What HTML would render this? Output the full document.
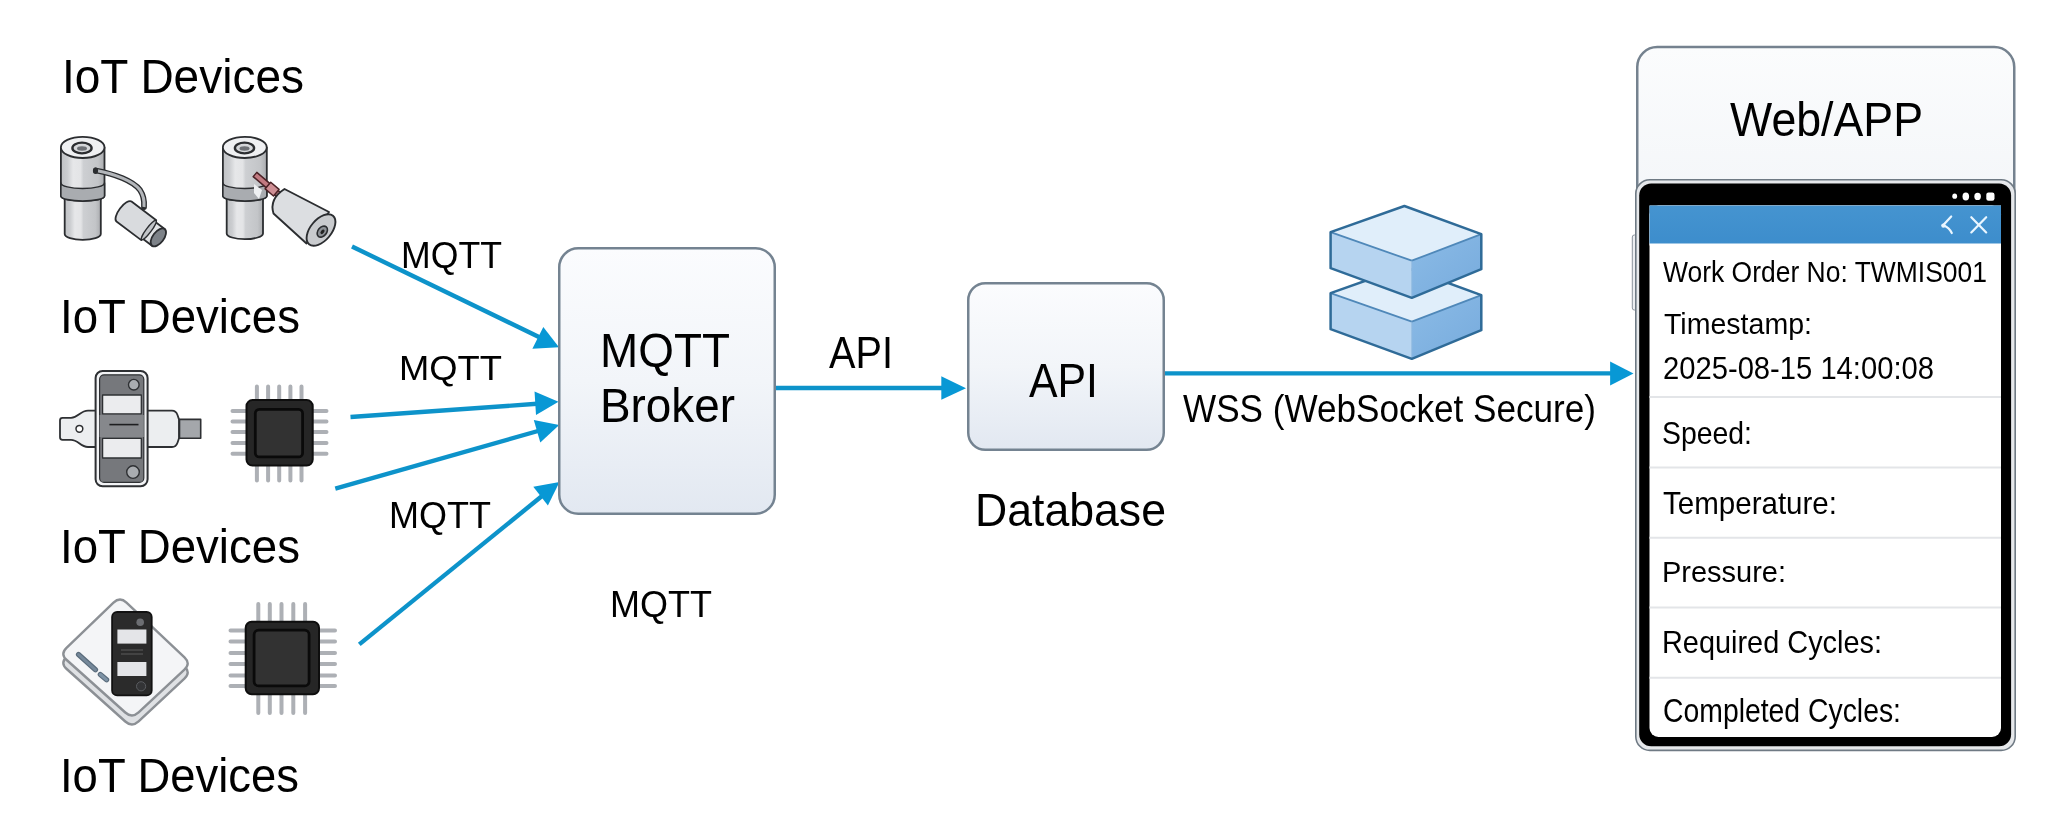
<!DOCTYPE html>
<html><head><meta charset="utf-8"><title>IoT MQTT Architecture</title><style>
html,body{margin:0;padding:0;background:#fff;width:2048px;height:825px;overflow:hidden}
svg{display:block;will-change:transform}
text{font-family:"Liberation Sans",sans-serif;fill:#000}
</style></head><body>
<svg width="2048" height="825" viewBox="0 0 2048 825">
<defs>
<linearGradient id="gBox" x1="0" y1="0" x2="0" y2="1">
<stop offset="0" stop-color="#fbfcfe"/><stop offset="0.5" stop-color="#f2f5f9"/><stop offset="1" stop-color="#e2e8f1"/>
</linearGradient>
<linearGradient id="gPanel" x1="0" y1="0" x2="0" y2="1">
<stop offset="0" stop-color="#fbfcfd"/><stop offset="1" stop-color="#edf1f5"/>
</linearGradient>
<linearGradient id="gHead" x1="0" y1="0" x2="0" y2="1">
<stop offset="0" stop-color="#4594d0"/><stop offset="1" stop-color="#3d8dcc"/>
</linearGradient>
<linearGradient id="gCyl" x1="0" y1="0" x2="1" y2="0">
<stop offset="0" stop-color="#bfc1c4"/><stop offset="0.15" stop-color="#cbcdd0"/><stop offset="0.28" stop-color="#e6e7e9"/><stop offset="0.45" stop-color="#e3e4e6"/><stop offset="0.52" stop-color="#cdcfd2"/><stop offset="0.85" stop-color="#c3c5c8"/><stop offset="1" stop-color="#abadb0"/>
</linearGradient>
<linearGradient id="gCylD" x1="0" y1="0" x2="1" y2="0">
<stop offset="0" stop-color="#9a9da1"/><stop offset="0.4" stop-color="#b8bbbf"/><stop offset="1" stop-color="#9b9ea2"/>
</linearGradient>
<linearGradient id="gChip" x1="0" y1="0" x2="0" y2="1">
<stop offset="0" stop-color="#3a3a3a"/><stop offset="1" stop-color="#2a2a2a"/>
</linearGradient>
</defs>

<!-- ============ arrows ============ -->
<g fill="#0898d5" stroke="none">
<line x1="352" y1="246.5" x2="541" y2="338" stroke="#0d93ca" stroke-width="4.4"/>
<polygon points="559,347.3 543.3,326.9 532.4,348.7"/>
<line x1="350.5" y1="417" x2="537" y2="403.8" stroke="#0d93ca" stroke-width="4.4"/>
<polygon points="558.5,401.8 534.5,391.6 536,414.9"/>
<line x1="335.3" y1="488.7" x2="538" y2="431" stroke="#0d93ca" stroke-width="4.4"/>
<polygon points="559.2,425 533.8,420 540.3,442.5"/>
<line x1="359.3" y1="644.4" x2="542" y2="496" stroke="#0d93ca" stroke-width="4.4"/>
<polygon points="559.5,482.1 533.3,486.7 547.9,505.6"/>
<line x1="776" y1="388" x2="943" y2="388" stroke="#0d93ca" stroke-width="4.4"/>
<polygon points="966,388.2 941.3,376.2 941.3,399.8"/>
<line x1="1164" y1="373.4" x2="1612" y2="373.4" stroke="#0d93ca" stroke-width="4.4"/>
<polygon points="1633.5,373.6 1610.1,361.6 1610.1,385.4"/>
</g>

<!-- ============ boxes ============ -->
<rect x="559.25" y="248.25" width="215.5" height="265.5" rx="19" fill="url(#gBox)" stroke="#748391" stroke-width="2.5"/>
<rect x="968.25" y="283.25" width="195.5" height="166.5" rx="17" fill="url(#gBox)" stroke="#748391" stroke-width="2.5"/>

<!-- ============ stacked blocks icon ============ -->
<defs><linearGradient id="gRF" x1="0" y1="0" x2="1" y2="1"><stop offset="0" stop-color="#8bbbe6"/><stop offset="1" stop-color="#77abdd"/></linearGradient></defs>
<polygon points="1330.6,293.1 1411.8,321.7 1411.8,358.8 1330.6,329.2" fill="#b6d4f0"/>
<polygon points="1411.8,321.7 1481.3,295.2 1481.3,330.2 1411.8,358.8" fill="url(#gRF)"/>
<polygon points="1330.6,293.1 1404.4,267.0 1481.3,295.2 1411.8,321.7" fill="#e0eefa"/>
<polyline points="1330.6,293.1 1411.8,321.7 1481.3,295.2" fill="none" stroke="#4f88b9" stroke-width="1.8" stroke-linejoin="round"/>
<line x1="1411.8" y1="321.7" x2="1411.8" y2="358.8" stroke="#8fb9e0" stroke-width="1"/>
<polygon points="1330.6,293.1 1404.4,267.0 1481.3,295.2 1481.3,330.2 1411.8,358.8 1330.6,329.2" fill="none" stroke="#2f6b98" stroke-width="2.5" stroke-linejoin="round"/>
<polygon points="1330.6,232.1 1411.8,260.7 1411.8,297.8 1330.6,268.2" fill="#b6d4f0"/>
<polygon points="1411.8,260.7 1481.3,234.2 1481.3,269.2 1411.8,297.8" fill="url(#gRF)"/>
<polygon points="1330.6,232.1 1404.4,206.0 1481.3,234.2 1411.8,260.7" fill="#e0eefa"/>
<polyline points="1330.6,232.1 1411.8,260.7 1481.3,234.2" fill="none" stroke="#4f88b9" stroke-width="1.8" stroke-linejoin="round"/>
<line x1="1411.8" y1="260.7" x2="1411.8" y2="297.8" stroke="#8fb9e0" stroke-width="1"/>
<polygon points="1330.6,232.1 1404.4,206.0 1481.3,234.2 1481.3,269.2 1411.8,297.8 1330.6,268.2" fill="none" stroke="#2f6b98" stroke-width="2.5" stroke-linejoin="round"/>

<!-- ============ Web/APP panel ============ -->
<rect x="1637.25" y="47" width="377" height="300" rx="20" fill="url(#gPanel)" stroke="#75828f" stroke-width="2.5"/>
<!-- side button -->
<rect x="1632.3" y="235" width="4.5" height="75" rx="2" fill="#eceef1" stroke="#8a939c" stroke-width="1"/>
<!-- phone -->
<rect x="1635.8" y="179.8" width="379.4" height="570.6" rx="14" fill="#e6e8eb" stroke="#6f7a84" stroke-width="1.6"/>
<rect x="1639.2" y="183.6" width="371.9" height="562.6" rx="12" fill="#000"/>
<rect x="1649.5" y="205.5" width="351.5" height="531.5" rx="9" fill="#fff"/>
<rect x="1649.5" y="205.5" width="351.5" height="40" fill="#fff"/>
<rect x="1649.5" y="205.5" width="351.5" height="38" fill="url(#gHead)"/>
<!-- status dots -->
<g fill="#fff">
<ellipse cx="1954.7" cy="196.2" rx="2.4" ry="2.6"/>
<ellipse cx="1965.8" cy="196.6" rx="3.3" ry="4"/>
<ellipse cx="1977.6" cy="196.4" rx="3.3" ry="3.7"/>
<rect x="1986.3" y="192.6" width="8.2" height="8.2" rx="2.2"/>
</g>
<!-- header icons -->
<g stroke="#eaf6ff" stroke-width="2.2" fill="none" stroke-linecap="round">
<path d="M1951.2,216.5 L1943.6,224.8"/><path d="M1944,225.6 Q1949.3,228 1951.8,233"/><circle cx="1943.4" cy="225.6" r="2.2" fill="#eaf6ff" stroke="none"/>
<path d="M1971.3,217.2 L1986.2,232.4 M1986.2,217.2 L1971.3,232.4"/>
</g>
<!-- separators -->
<g stroke="#e3e5e8" stroke-width="2">
<line x1="1649.5" y1="397" x2="2001" y2="397"/>
<line x1="1649.5" y1="467.6" x2="2001" y2="467.6"/>
<line x1="1649.5" y1="537.8" x2="2001" y2="537.8"/>
<line x1="1649.5" y1="607.6" x2="2001" y2="607.6"/>
<line x1="1649.5" y1="677.7" x2="2001" y2="677.7"/>
</g>

<!-- ============ device icons ============ -->
<!-- ===== Icon A: cylinder sensor with cable ===== -->
<g stroke="#2b2d30" stroke-width="1.8" stroke-linejoin="round">
<!-- lower body -->
<path d="M64.7,194 L64.7,234 A18.05,5.8 0 0 0 100.8,234 L100.8,194 Z" fill="url(#gCyl)"/>
<!-- upper body -->
<path d="M60.9,147.4 L60.9,196 A21.8,5 0 0 0 104.5,196 L104.5,147.4 Z" fill="url(#gCyl)"/>
<!-- band -->
<path d="M60.9,183 A21.8,5.5 0 0 0 104.5,183 L104.5,196 A21.8,5 0 0 1 60.9,196 Z" fill="#a9acb0" stroke-width="1.5"/>
<!-- top -->
<ellipse cx="82.7" cy="147.4" rx="21.8" ry="10.6" fill="#eff0f2"/>
<ellipse cx="82" cy="148" rx="9.6" ry="5.4" fill="#d5d7da" stroke-width="2.4"/>
<ellipse cx="82" cy="148.5" rx="5" ry="2.2" fill="#6d7075" stroke="none"/>
</g>
<!-- cable -->
<path d="M96,170.5 C115,174 133,181 140,190 C144,196 144.5,201 144,207" fill="none" stroke="#2b2d30" stroke-width="5.8" stroke-linecap="round"/>
<path d="M96,170.5 C115,174 133,181 140,190 C144,196 144.5,201 144,207" fill="none" stroke="#b3b6ba" stroke-width="3.1"/>
<ellipse cx="95.5" cy="170.8" rx="2.6" ry="3.2" fill="#2b2d30"/>
<!-- small tilted cylinder -->
<g transform="translate(124,211.5) rotate(37)" stroke="#2b2d30" stroke-width="1.8" stroke-linejoin="round">
<path d="M0,-12.5 L31,-12.5 L31,12.5 L0,12.5 A5,12.5 0 0 1 0,-12.5 Z" fill="#d9dbde"/>
<path d="M31,-10.5 L43,-10.5 L43,10.5 L31,10.5 Z" fill="#e2e4e6"/>
<ellipse cx="31" cy="0" rx="2.5" ry="12" fill="#c2c5c9" stroke-width="1.4"/>
<ellipse cx="43" cy="0" rx="5.5" ry="10.5" fill="#7d8288"/>
</g>

<!-- ===== Icon B: cylinder sensor with plug ===== -->
<g stroke="#2b2d30" stroke-width="1.8" stroke-linejoin="round">
<path d="M226.7,194 L226.7,233.4 A18.15,5.8 0 0 0 263,233.4 L263,194 Z" fill="url(#gCyl)"/>
<path d="M222.9,147.4 L222.9,196 A21.95,5 0 0 0 266.8,196 L266.8,147.4 Z" fill="url(#gCyl)"/>
<path d="M222.9,183 A21.95,5.5 0 0 0 266.8,183 L266.8,196 A21.95,5 0 0 1 222.9,196 Z" fill="#a9acb0" stroke-width="1.5"/>
<ellipse cx="244.8" cy="147.4" rx="21.95" ry="10.6" fill="#eff0f2"/>
<ellipse cx="244.5" cy="148" rx="9.6" ry="5.4" fill="#d5d7da" stroke-width="2.4"/>
<ellipse cx="244.5" cy="148.5" rx="5" ry="2.2" fill="#6d7075" stroke="none"/>
</g>
<!-- red rod -->
<path d="M254,184 L262,190 L259,199 L254,193 Z" fill="#eef0f2" stroke="none"/>
<g stroke="#4a2226" stroke-width="1.5" stroke-linejoin="round">
<path d="M253.18,176.63 L256.82,172.37 L280.82,192.87 L277.18,197.13 Z" fill="#c27a81"/>
<path d="M265.13,188.82 L270.72,182.28 L279.07,189.43 L273.49,195.97 Z" fill="#cf8f95"/>
</g>
<!-- big tilted cylinder -->
<g stroke="#2b2d30" stroke-width="1.9" stroke-linejoin="round">
<path d="M284.5,189 L329,212 L306.5,243.5 L273.5,213.5 Q269,199 284.5,189 Z" fill="#dcdee1"/>
<ellipse cx="321" cy="230" rx="10.5" ry="18.6" transform="rotate(40 321 230)" fill="#c9cbce"/>
<ellipse cx="322.3" cy="231.6" rx="4.3" ry="6.2" transform="rotate(40 322.3 231.6)" fill="#8d9196" stroke-width="1.6"/>
<ellipse cx="322.5" cy="231.8" rx="1.6" ry="2.6" transform="rotate(40 322.5 231.8)" fill="#222" stroke="none"/>
</g>

<!-- ===== Icon C: DIN device ===== -->
<g stroke="#2e3033" stroke-width="1.8" stroke-linejoin="round">
<!-- left tab -->
<path d="M97,410.7 L88,410.7 C80,410.7 78.5,417.8 71,417.8 L62.5,417.8 Q60,417.8 60,420.3 L60,437.3 Q60,439.8 62.5,439.8 L71,439.8 C78.5,439.8 80,447 88,447 L97,447 Z" fill="#eceef0"/>
<circle cx="79.4" cy="428.8" r="3.4" fill="#fff" stroke-width="1.5"/>
<!-- right tab -->
<path d="M146,410.7 L172,410.7 Q176,410.7 177.5,415 L179,419.4 L179,438.3 L177.5,442.7 Q176,447 172,447 L146,447 Z" fill="#eceef0"/>
<rect x="179.5" y="419.4" width="21.2" height="18.9" fill="#a4a7ab" stroke-width="1.6"/>
<!-- body -->
<rect x="95.6" y="371" width="52" height="115.3" rx="7" fill="#f2f3f5" stroke-width="2"/>
<rect x="99.6" y="374.8" width="44.2" height="107.6" rx="4.5" fill="#76787c" stroke-width="1.2"/>
<rect x="99.6" y="415" width="44.2" height="22" fill="#86888c" stroke="none"/>
<rect x="102.6" y="395" width="38.7" height="18.8" fill="#ebecee" stroke-width="1.3"/>
<rect x="102.6" y="438.3" width="38.7" height="19.7" fill="#ebecee" stroke-width="1.3"/>
<line x1="109.4" y1="424.6" x2="138.5" y2="424.6" stroke="#1d1e20" stroke-width="1.6"/>
<circle cx="133.8" cy="384.7" r="5.3" fill="#a9acb0" stroke-width="1.4"/>
<circle cx="133" cy="472.1" r="6.3" fill="#a9acb0" stroke-width="1.4"/>
</g>

<!-- ===== Icon D: chip row 2 ===== -->
<g stroke="#adb0b5" stroke-width="4" stroke-linecap="round">
<path d="M256.9,386.5 V400 M268.1,386.5 V400 M279.2,386.5 V400 M290.4,386.5 V400 M301.5,386.5 V400"/>
<path d="M256.9,466 V480.5 M268.1,466 V480.5 M279.2,466 V480.5 M290.4,466 V480.5 M301.5,466 V480.5"/>
<path d="M232.5,411 H246.5 M232.5,421.4 H246.5 M232.5,431.9 H246.5 M232.5,443 H246.5 M232.5,453.7 H246.5"/>
<path d="M312.7,411 H326.5 M312.7,421.4 H326.5 M312.7,431.9 H326.5 M312.7,443 H326.5 M312.7,453.7 H326.5"/>
</g>
<rect x="246.5" y="400.1" width="66.2" height="65.5" rx="6" fill="#262626" stroke="#0e0e0e" stroke-width="2"/>
<rect x="255.3" y="409.4" width="47.3" height="47.5" rx="4" fill="#323232" stroke="#0a0a0a" stroke-width="2.8"/>

<!-- ===== Icon E: tilted device ===== -->
<g stroke="#8c9095" stroke-width="2.4" stroke-linejoin="round">
<path d="M113.5,611.7 Q120.0,605.5 126.5,611.7 L184.5,666.3 Q191.0,672.5 184.4,678.6 L138.6,721.4 Q132.0,727.5 125.3,721.5 L66.7,669.0 Q60.0,663.0 66.5,656.8 Z" fill="#dfe1e4"/>
<path d="M113.5,602.7 Q120.0,596.5 126.5,602.7 L184.5,657.3 Q191.0,663.5 184.4,669.6 L138.6,712.4 Q132.0,718.5 125.3,712.5 L66.7,660.0 Q60.0,654.0 66.5,647.8 Z" fill="#f4f5f7"/>
</g>
<g stroke-linecap="round">
<line x1="78.5" y1="654.5" x2="95.5" y2="669.8" stroke="#596b7b" stroke-width="5.2"/>
<line x1="78.5" y1="654.5" x2="95.5" y2="669.8" stroke="#75889a" stroke-width="3"/>
<line x1="100.3" y1="674.5" x2="106.6" y2="679.8" stroke="#596b7b" stroke-width="5.2"/>
<line x1="100.3" y1="674.5" x2="106.6" y2="679.8" stroke="#7e93a6" stroke-width="3"/>
</g>
<g stroke="#111" stroke-width="1.8" stroke-linejoin="round">
<rect x="112.1" y="612" width="39.6" height="83.4" rx="5" fill="#2b2b2b"/>
<rect x="117.4" y="629.5" width="29" height="14.1" fill="#e4e5e8" stroke="none"/>
<rect x="117.4" y="662" width="29" height="14" fill="#e4e5e8" stroke="none"/>
<line x1="121" y1="650" x2="143" y2="650" stroke="#555" stroke-width="1.2"/>
<line x1="121" y1="654" x2="143" y2="654" stroke="#555" stroke-width="1.2"/>
<circle cx="140.2" cy="622.2" r="3.8" fill="#6c6e72" stroke="none"/>
<circle cx="141.1" cy="686.3" r="4.6" fill="#333436" stroke="#5a5c60" stroke-width="1"/>
</g>

<!-- ===== Icon F: chip row 3 ===== -->
<g stroke="#adb0b5" stroke-width="4" stroke-linecap="round">
<path d="M258.3,604 V621.5 M269.8,604 V621.5 M281.5,604 V621.5 M293.3,604 V621.5 M305.1,604 V621.5"/>
<path d="M258.3,694.5 V713 M269.8,694.5 V713 M281.5,694.5 V713 M293.3,694.5 V713 M305.1,694.5 V713"/>
<path d="M230.5,630.5 H245.7 M230.5,641.5 H245.7 M230.5,653 H245.7 M230.5,664 H245.7 M230.5,675.4 H245.7 M230.5,686.1 H245.7"/>
<path d="M319,630.5 H335 M319,641.5 H335 M319,653 H335 M319,664 H335 M319,675.4 H335 M319,686.1 H335"/>
</g>
<rect x="245.7" y="621.8" width="73.3" height="72.5" rx="6" fill="#262626" stroke="#0e0e0e" stroke-width="2"/>
<rect x="254.1" y="630.2" width="55" height="55.7" rx="4.5" fill="#323232" stroke="#0a0a0a" stroke-width="2.8"/>


<text x="62.00" y="92.50" font-size="48.04" textLength="242.00" lengthAdjust="spacingAndGlyphs">IoT Devices</text>
<text x="60.00" y="333.00" font-size="48.75" textLength="240.00" lengthAdjust="spacingAndGlyphs">IoT Devices</text>
<text x="60.00" y="563.40" font-size="48.75" textLength="240.00" lengthAdjust="spacingAndGlyphs">IoT Devices</text>
<text x="60.00" y="791.70" font-size="48.61" textLength="239.00" lengthAdjust="spacingAndGlyphs">IoT Devices</text>
<text x="401.00" y="267.80" font-size="37.13" textLength="101.00" lengthAdjust="spacingAndGlyphs">MQTT</text>
<text x="399.00" y="380.00" font-size="35.43" textLength="103.00" lengthAdjust="spacingAndGlyphs">MQTT</text>
<text x="389.00" y="528.40" font-size="36.28" textLength="102.00" lengthAdjust="spacingAndGlyphs">MQTT</text>
<text x="610.00" y="617.20" font-size="37.13" textLength="102.00" lengthAdjust="spacingAndGlyphs">MQTT</text>
<text x="600.00" y="367.30" font-size="48.89" textLength="130.00" lengthAdjust="spacingAndGlyphs">MQTT</text>
<text x="600.00" y="421.80" font-size="47.19" textLength="135.00" lengthAdjust="spacingAndGlyphs">Broker</text>
<text x="829.00" y="367.70" font-size="45.21" textLength="64.00" lengthAdjust="spacingAndGlyphs">API</text>
<text x="1029.00" y="397.20" font-size="48.89" textLength="69.00" lengthAdjust="spacingAndGlyphs">API</text>
<text x="975.00" y="525.70" font-size="46.77" textLength="191.00" lengthAdjust="spacingAndGlyphs">Database</text>
<text x="1183.00" y="421.70" font-size="38.69" textLength="413.00" lengthAdjust="spacingAndGlyphs">WSS (WebSocket Secure)</text>
<text x="1730.00" y="135.70" font-size="47.19" textLength="193.00" lengthAdjust="spacingAndGlyphs">Web/APP</text>
<text x="1663.00" y="282.40" font-size="29.19" textLength="324.00" lengthAdjust="spacingAndGlyphs">Work Order No: TWMIS001</text>
<text x="1664.00" y="333.60" font-size="29.62" textLength="148.00" lengthAdjust="spacingAndGlyphs">Timestamp:</text>
<text x="1663.00" y="379.10" font-size="30.89" textLength="271.00" lengthAdjust="spacingAndGlyphs">2025-08-15 14:00:08</text>
<text x="1662.00" y="443.60" font-size="31.60" textLength="90.00" lengthAdjust="spacingAndGlyphs">Speed:</text>
<text x="1663.00" y="513.60" font-size="30.61" textLength="174.00" lengthAdjust="spacingAndGlyphs">Temperature:</text>
<text x="1662.00" y="582.40" font-size="30.04" textLength="124.00" lengthAdjust="spacingAndGlyphs">Pressure:</text>
<text x="1662.00" y="652.60" font-size="31.60" textLength="220.00" lengthAdjust="spacingAndGlyphs">Required Cycles:</text>
<text x="1663.00" y="721.70" font-size="32.74" textLength="238.00" lengthAdjust="spacingAndGlyphs">Completed Cycles:</text>
</svg>
</body></html>
